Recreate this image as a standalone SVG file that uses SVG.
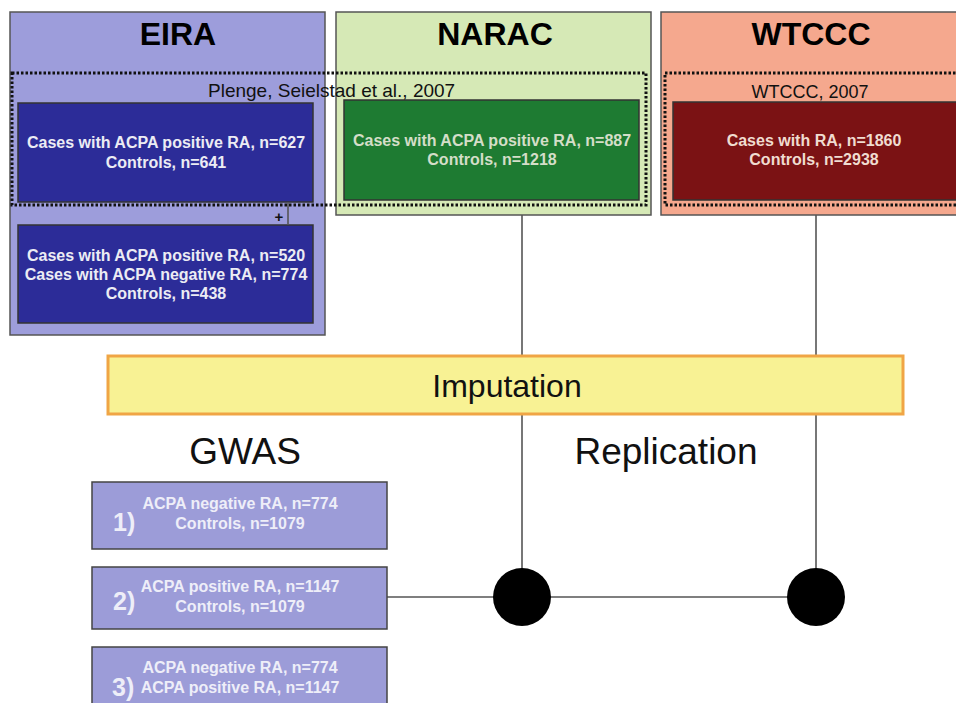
<svg xmlns="http://www.w3.org/2000/svg" width="956" height="703" viewBox="0 0 956 703">
<style>
text{font-family:"Liberation Sans",Arial,sans-serif}
.title{font-size:32px;font-weight:bold;fill:#000;text-anchor:middle}
.cite{font-size:18px;fill:#111}
.cite2{font-size:19px;fill:#111}
.inner{font-size:16px;font-weight:bold;text-anchor:middle}
.big{font-size:37px;fill:#111;text-anchor:middle}
.num{font-size:25px;font-weight:bold;fill:#eeeef8}
.dot{fill:none;stroke:#111;stroke-width:3;stroke-dasharray:2.5 2}
.conn{stroke:#555;stroke-width:1.6;fill:none}
.gw{fill:#9c9cd8;stroke:#444;stroke-width:1.5}
</style>
<rect width="956" height="703" fill="#fff"/>
<g id="EIRA">
<rect x="10" y="12" width="315" height="323" fill="#9d9ddb" stroke="#555" stroke-width="1.5"/>
<text class="title" x="178" y="45">EIRA</text>
<rect x="18" y="103" width="295" height="99" fill="#2c2c98" stroke="#333" stroke-width="1.5"/>
<text class="inner" fill="#ececf4" x="166" y="148">Cases with ACPA positive RA, n=627</text>
<text class="inner" fill="#ececf4" x="166" y="168">Controls, n=641</text>
</g>
<g id="EIRA2">
<rect x="18" y="225" width="295" height="98" fill="#2c2c98" stroke="#333" stroke-width="1.5"/>
<text class="inner" fill="#ececf4" x="166" y="261">Cases with ACPA positive RA, n=520</text>
<text class="inner" fill="#ececf4" x="166" y="280">Cases with ACPA negative RA, n=774</text>
<text class="inner" fill="#ececf4" x="166" y="299">Controls, n=438</text>
</g>
<g id="NARAC">
<rect x="336" y="12" width="315" height="203" fill="#d6e9b6" stroke="#555" stroke-width="1.5"/>
<text class="title" x="495" y="45">NARAC</text>
<rect x="344" y="100" width="295" height="100" fill="#1e7b32" stroke="#333" stroke-width="1.5"/>
<text class="inner" fill="#d4dec8" x="492" y="146">Cases with ACPA positive RA, n=887</text>
<text class="inner" fill="#d4dec8" x="492" y="165">Controls, n=1218</text>
</g>
<g id="WTCCC">
<rect x="661" y="12" width="300" height="203" fill="#f5a88e" stroke="#555" stroke-width="1.5"/>
<text class="title" x="811" y="45">WTCCC</text>
<rect x="665" y="73" width="300" height="132" class="dot"/>
<text class="cite" x="810" y="98" text-anchor="middle">WTCCC, 2007</text>
<rect x="673" y="102" width="290" height="98" fill="#7b1214" stroke="#333" stroke-width="1.5"/>
<text class="inner" fill="#f0dcd0" x="814" y="146">Cases with RA, n=1860</text>
<text class="inner" fill="#f0dcd0" x="814" y="165">Controls, n=2938</text>
</g>
<g id="Plenge">
<rect x="12" y="73" width="634" height="132" class="dot"/>
<text class="cite2" x="208" y="97">Plenge, Seielstad et al., 2007</text>
</g>
<g id="connectors">
<line class="conn" x1="288" y1="202" x2="288" y2="225"/>
<text x="279" y="222" font-size="15" font-weight="bold" text-anchor="middle" fill="#111">+</text>
<line class="conn" x1="522" y1="215" x2="522" y2="597"/>
<line class="conn" x1="816" y1="215" x2="816" y2="597"/>
<line class="conn" x1="387" y1="597" x2="816" y2="597"/>
</g>
<g id="Imputation">
<rect x="108" y="356" width="795" height="58" fill="#f8f294" stroke="#f0a545" stroke-width="3"/>
<text x="507" y="397" font-size="32" fill="#111" text-anchor="middle">Imputation</text>
</g>
<g id="labels">
<text class="big" x="245" y="464">GWAS</text>
<text class="big" x="666" y="464">Replication</text>
</g>
<g id="circle1"><circle cx="522" cy="597" r="29" fill="#000"/></g>
<g id="circle2"><circle cx="816" cy="597" r="29" fill="#000"/></g>
<g id="GWAS1">
<rect class="gw" x="92" y="482" width="295" height="67"/>
<text class="num" x="113" y="531">1)</text>
<text class="inner" fill="#eeeef8" x="240" y="509">ACPA negative RA, n=774</text>
<text class="inner" fill="#eeeef8" x="240" y="529">Controls, n=1079</text>
</g>
<g id="GWAS2">
<rect class="gw" x="92" y="567" width="295" height="62"/>
<text class="num" x="113" y="610">2)</text>
<text class="inner" fill="#eeeef8" x="240" y="592">ACPA positive RA, n=1147</text>
<text class="inner" fill="#eeeef8" x="240" y="612">Controls, n=1079</text>
</g>
<g id="GWAS3">
<rect class="gw" x="92" y="647" width="295" height="70"/>
<text class="num" x="112" y="696">3)</text>
<text class="inner" fill="#eeeef8" x="240" y="673">ACPA negative RA, n=774</text>
<text class="inner" fill="#eeeef8" x="240" y="693">ACPA positive RA, n=1147</text>
</g>
</svg>
